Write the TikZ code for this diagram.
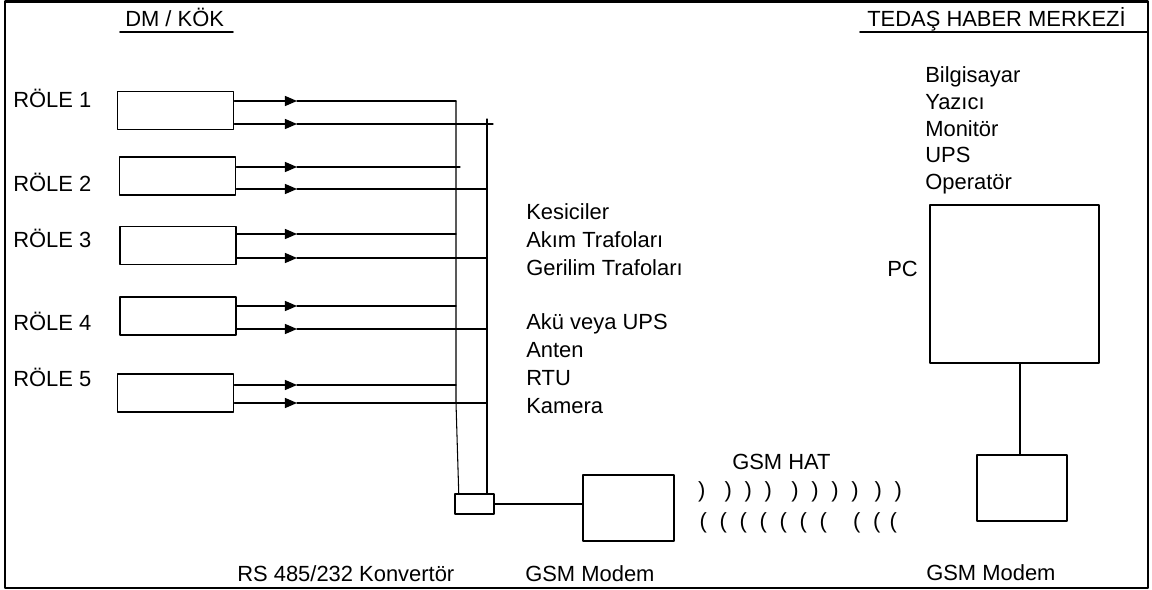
\documentclass[tikz,border=0pt]{standalone}
\usepackage{fontspec}
\setmainfont{Liberation Sans}
\usetikzlibrary{arrows.meta,calc}

\begin{document}
\begin{tikzpicture}[
    x=0.025cm,
    y=-0.025cm,
    line cap=round,
    line join=round,
    every node/.style={font=\fontsize{15.6}{18}\selectfont},
    lbl/.style={anchor=base west, inner sep=0pt},
    paren/.style={inner sep=0pt},
    relbox/.style={draw, line width=1.3pt, minimum width=2.9cm, minimum height=0.95cm, inner sep=0pt},
    sig/.style={line width=0.9pt, -{Triangle[length=0.3cm,width=0.25cm]}},
    wire/.style={line width=0.75pt},
    uline/.style={line width=1.4pt}
    ]
    \useasboundingbox (0,0) rectangle (1152,590);

    % outer frame
    \draw[line width=1.5pt] (5,1.5) rectangle (1148,588);

    % headings
    \node[lbl] (dmkok) at (125,27) {DM / KÖK};
    \draw[uline] (120,32) -- (233,32);
    \node[lbl] (tedas) at (867,27) {TEDAŞ HABER MERKEZİ};
    \draw[uline] (860,32) -- (1147,32);

    % relays
    \foreach \i/\cx/\cy in {1/175.5/110.5, 2/177.5/176, 3/178/245.5, 4/178/316, 5/175.5/393}
    \node[relbox] (rel\i) at (\cx,\cy) {};
    \foreach \i/\yy in {1/108, 2/192, 3/248, 4/331, 5/387}
    \node[lbl] (rname\i) at (13,\yy) {RÖLE \i};

    % converter and bus lines
    \node[draw, line width=1.8pt, minimum width=0.975cm, minimum height=0.5cm, inner sep=0pt] (conv) at (474.5,504) {};
    \coordinate (bustopA) at (456,101);
    \coordinate (busknee) at (456,403);
    \coordinate (bustopB) at (487,119);
    \draw[wire] (bustopA) -- (busknee) -- ($(conv.north west)+(5,0)$);
    \draw[wire] (bustopB) -- (bustopB |- conv.north);

    \foreach \i/\ya/\yb in {1/101/124, 2/167/189, 3/234/258, 4/306/329, 5/385/403}{
        \coordinate (tipA\i) at (297,\ya);
        \coordinate (tipB\i) at (297,\yb);
        \draw[sig] (rel\i.east |- tipA\i) -- (tipA\i);
        \draw[sig] (rel\i.east |- tipB\i) -- (tipB\i);
        \draw[wire] (tipA\i) -- (tipA\i -| bustopA);
        \draw[wire] (tipB\i) -- (tipB\i -| bustopB);
    }
    \draw[wire] (tipB1 -| bustopB) -- ++(6,0);
    \draw[wire] (tipA2 -| bustopA) -- ++(4,0);

    % substation equipment
    \foreach \t/\yy [count=\k] in {Kesiciler/220, Akım Trafoları/248, Gerilim Trafoları/276,
        Akü veya UPS/330, Anten/358, RTU/386, Kamera/414}
    \node[lbl] (equip\k) at (526,\yy) {\t};

    % GSM modem (substation side)
    \node[draw, line width=1.5pt, minimum width=2.275cm, minimum height=1.65cm, inner sep=0pt] (modemA) at (628.5,508) {};
    \draw[wire] (conv.east) -- (conv.east -| modemA.west);
    \node[lbl] (convlbl) at (237,581) {RS 485/232 Konvertör};
    \node[lbl] (modemAlbl) at (525,581) {GSM Modem};

    % GSM line
    \node[lbl] (gsmhat) at (732,470) {GSM HAT};
    \foreach \px [count=\k] in {701.7,728.3,748.3,768.3,795,815,835,855,878.3,898.3}
    \node[paren] (wa\k) at (\px,492) {)};
    \foreach \px [count=\k] in {703.3,723.3,743.3,763.3,783.3,803.3,823.3,856.7,876.7,893.3}
    \node[paren] (wb\k) at (\px,523) {(};

    % control centre
    \foreach \t/\yy [count=\k] in {Bilgisayar/83, Yazıcı/110, Monitör/137, UPS/163, Operatör/190}
    \node[lbl] (pcitem\k) at (925,\yy) {\t};
    \node[draw, line width=1.9pt, minimum width=4.225cm, minimum height=3.95cm, inner sep=0pt] (pc) at (1014.5,284) {};
    \node[lbl] (pclbl) at (887,277) {PC};
    \node[draw, line width=1.5pt, minimum width=2.25cm, minimum height=1.65cm, inner sep=0pt] (modemB) at (1022,488) {};
    \coordinate (pcdrop) at ($(modemB.north)+(-2,0)$);
    \draw[wire] (pcdrop) -- (pcdrop |- pc.south);
    \node[lbl] (modemBlbl) at (926,580) {GSM Modem};

\end{tikzpicture}
\end{document}
